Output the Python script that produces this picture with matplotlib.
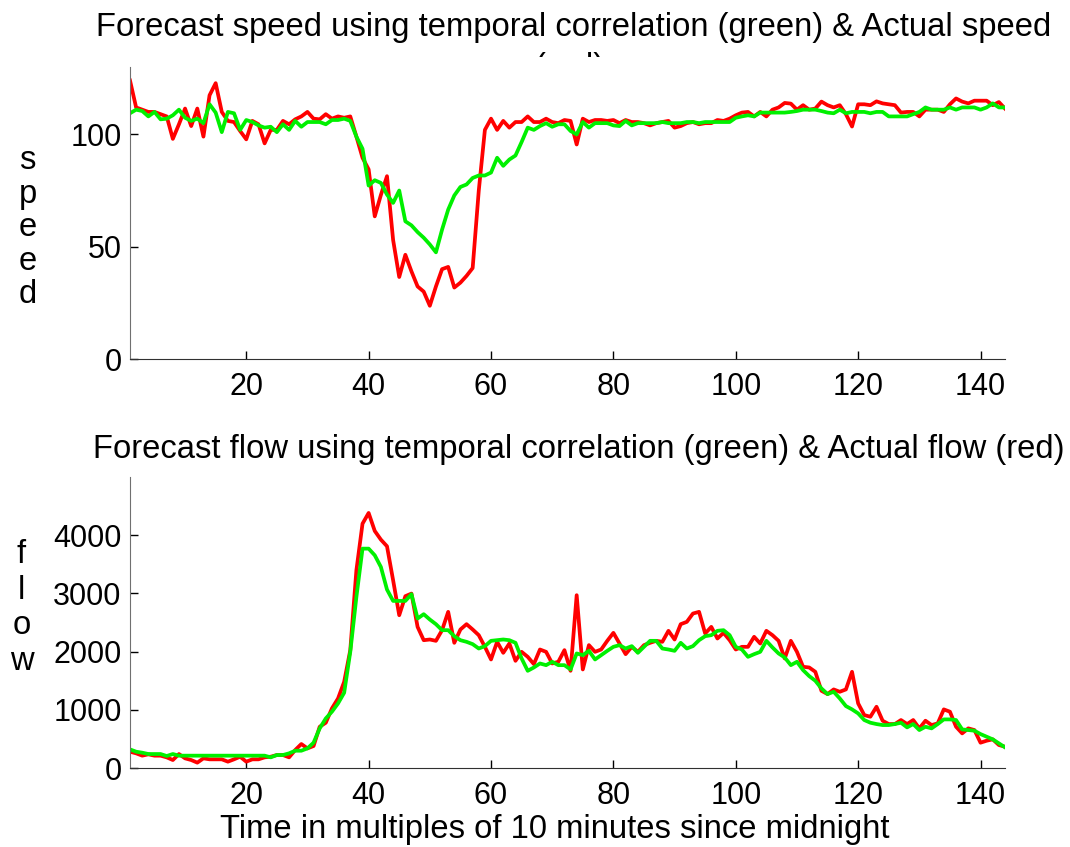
'''
forecast vs actual speed / flow
'''
import numpy as np
import matplotlib
matplotlib.use('Agg')
import matplotlib.pyplot as plt
from matplotlib.transforms import Bbox

# time index, 10 minute steps since midnight
t = np.arange(1, 145)

speed_actual = [124, 112, 111, 110, 110, 109, 108, 98, 104.5, 111.5,
                103.7, 111.5, 99, 117.4, 122.8, 110, 106, 105.5, 101.5, 97.8,
                106, 104.5, 96, 102, 102, 106, 104.5, 106.7, 108, 110,
                107, 106.7, 109, 107, 108, 107.4, 108, 99, 89.6, 84.4,
                63.5, 73, 81.4, 53, 36.5, 46.4, 39, 32.3, 30, 23.7,
                32.3, 40, 41, 31.8, 34, 37, 40.5, 75, 102, 107,
                102, 106, 103, 105.5, 105.5, 108, 105.5, 105.5, 107, 105.5,
                105, 106.4, 106, 95.5, 107, 105.5, 106.4, 106.4, 106, 106.4,
                105, 106.4, 105.5, 105.5, 105, 104, 105, 105.5, 106, 103,
                103.7, 105, 105.5, 104.5, 105, 105, 106.4, 106, 107, 108.5,
                109.7, 110, 108, 110, 108, 111, 112, 114, 113.7, 111,
                113, 111, 111.5, 114.6, 113, 112, 113, 109, 103.5, 113.4,
                113.4, 113, 114.7, 113.8, 113.4, 113, 109.7, 110, 110, 108,
                111, 111, 111, 110, 113.4, 116, 114.6, 113.8, 115, 115,
                115, 113, 114.4, 111.5]

speed_forecast = [109.4, 111, 110.4, 108, 110, 106.7, 107, 108.5, 111, 107.4,
                  106, 107, 105, 113.4, 109.7, 101, 110, 109.4, 102, 106.4,
                  105.5, 104, 103, 103.4, 101, 104.5, 102, 106, 103.4, 105.5,
                  105.5, 105.5, 104.5, 106.4, 106.4, 107, 106, 99, 93.6, 77.2,
                  79.6, 78.4, 73.2, 69.5, 75, 61.3, 59.5, 56.5, 54, 51,
                  47.5, 57.6, 66.5, 72.8, 76.6, 77.7, 80.6, 81.7, 81.7, 83,
                  89.6, 86, 88.8, 90.6, 96.6, 103, 102, 103.7, 105, 103.4,
                  104.5, 104.5, 101.5, 100, 105.5, 103, 105, 105, 105, 104,
                  103.7, 106, 104, 105, 105, 105, 105, 105.5, 105, 105,
                  105, 105.5, 105.5, 105, 105.5, 105.5, 105.5, 105.5, 105.5, 107.4,
                  108, 108.5, 108, 109.7, 109.7, 109.7, 109.7, 109.7, 110, 110.4,
                  111, 111, 111, 110.4, 109.7, 109.4, 111, 109.4, 110, 110,
                  110, 109.4, 110, 110, 108, 108, 108, 108, 109, 110,
                  112, 111, 111, 111, 112, 111, 112, 112, 112, 111,
                  112, 113.8, 112, 112]

flow_actual = [280, 252, 212, 235, 212, 212, 183, 137, 240, 166,
               137, 92, 166, 149, 149, 149, 109, 149, 194, 109,
               149, 149, 183, 194, 223, 223, 183, 309, 412, 337,
               378, 709, 778, 1024, 1195, 1481, 2025, 3398, 4198, 4382,
               4073, 3924, 3810, 3226, 2625, 2952, 2997, 2425, 2196, 2208,
               2185, 2368, 2683, 2151, 2380, 2471, 2380, 2282, 2082, 1865,
               2168, 1979, 2139, 1842, 1996, 1910, 1785, 2036, 1996, 1796,
               1825, 2025, 1670, 2969, 1693, 2111, 1996, 2036, 2185, 2322,
               2139, 1956, 2082, 1996, 2111, 2151, 2185, 2168, 2357, 2208,
               2471, 2511, 2654, 2683, 2311, 2425, 2225, 2322, 2196, 2036,
               2082, 2082, 2254, 2139, 2357, 2282, 2185, 1882, 2185, 1996,
               1739, 1727, 1653, 1327, 1270, 1350, 1310, 1350, 1653, 1110,
               909, 881, 1052, 812, 755, 755, 824, 755, 824, 681,
               812, 738, 766, 1007, 967, 709, 595, 681, 652, 435,
               469, 492, 395, 366]

flow_forecast = [320, 280, 263, 240, 240, 240, 206, 240, 212, 212,
                 212, 212, 212, 212, 212, 212, 212, 212, 212, 212,
                 212, 212, 212, 183, 223, 223, 252, 297, 297, 337,
                 435, 680, 852, 967, 1110, 1293, 1996, 2940, 3769, 3769,
                 3655, 3455, 3066, 2871, 2871, 2871, 2986, 2568, 2643, 2551,
                 2471, 2368, 2368, 2265, 2196, 2168, 2128, 2053, 2094, 2185,
                 2196, 2208, 2196, 2151, 1882, 1670, 1727, 1796, 1767, 1825,
                 1767, 1767, 1693, 1968, 1939, 2013, 1865, 1939, 2013, 2082,
                 2111, 2053, 2094, 1979, 2082, 2185, 2185, 2053, 2036, 2013,
                 2151, 2053, 2094, 2196, 2265, 2282, 2357, 2368, 2282, 2082,
                 2036, 1910, 1956, 1996, 2185, 2071, 1968, 1899, 1767, 1825,
                 1682, 1579, 1499, 1367, 1270, 1310, 1195, 1064, 1007, 938,
                 824, 778, 755, 738, 738, 755, 778, 698, 755, 652,
                 709, 681, 755, 835, 835, 824, 663, 652, 641, 583,
                 538, 492, 423, 355]

plt.rcParams['font.family'] = ['Liberation Sans', 'DejaVu Sans']
fs = 23.6       # titles / labels
fs_tick = 22

W, H = 1070, 847
fig = plt.figure(figsize=(W / 100, H / 100), dpi=100)


def px_axes(left, top, right, bottom):
    return fig.add_axes([left / W, 1 - bottom / H, (right - left) / W, (bottom - top) / H])


def style(ax):
    ax.spines['top'].set_visible(False)
    ax.spines['right'].set_visible(False)
    ax.spines['left'].set_color('#707070')
    ax.spines['bottom'].set_color('#303030')
    ax.tick_params(direction='in', length=6, width=1, labelsize=fs_tick)
    ax.tick_params(axis='x', pad=9)
    ax.tick_params(axis='y', pad=6)
    ax.set_xlim(1, 144)
    ax.set_xticks([20, 40, 60, 80, 100, 120, 140])


ax0 = px_axes(130, 67, 1005, 359)
ax1 = px_axes(130, 477, 1005, 768)

ax0.plot(t, speed_actual, color='#ff0000', lw=2.7)
ax0.plot(t, speed_forecast, color='#00f000', lw=2.7)
style(ax0)
ax0.set_ylim(0, 130)
ax0.set_yticks([0, 50, 100])
ax0.set_ylabel('s\np\ne\ne\nd', rotation=0, fontsize=fs, ha='center', va='center',
               linespacing=1.1)
ax0.yaxis.set_label_coords(-0.117, 0.45)

ax1.plot(t, flow_actual, color='#ff0000', lw=2.7)
ax1.plot(t, flow_forecast, color='#00f000', lw=2.7)
style(ax1)
ax1.set_ylim(0, 5000)
ax1.set_yticks([0, 1000, 2000, 3000, 4000])
ax1.set_ylabel('f\nl\no\nw', rotation=0, fontsize=fs, ha='center', va='center',
               linespacing=1.2)
ax1.yaxis.set_label_coords(-0.124, 0.55)
ax1.set_xlabel('Time in multiples of 10 minutes since midnight', fontsize=fs, va='baseline')
ax1.xaxis.set_label_coords(0.486, -0.2405)

# titles (top one wraps, second line hidden behind the axes)
fig.text(574 / W, 1 - 36 / H, 'Forecast speed using temporal correlation (green) & Actual speed',
         ha='center', va='baseline', fontsize=fs)
red_line = fig.text(570 / W, 1 - 76 / H, '(red)', ha='center', va='baseline', fontsize=fs)
red_line.set_clip_box(Bbox([[0, H - 57], [W, H]]))
red_line.set_clip_on(True)
fig.text(579 / W, 1 - 458 / H, 'Forecast flow using temporal correlation (green) & Actual flow (red)',
         ha='center', va='baseline', fontsize=fs)

fig.savefig('out.png', dpi=100)
